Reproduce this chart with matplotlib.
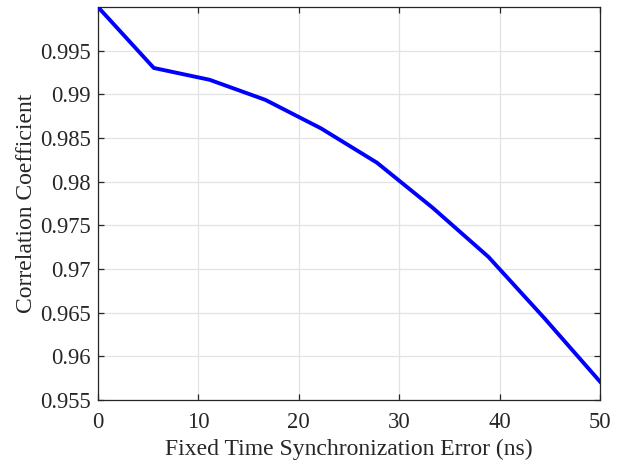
import numpy as np
import matplotlib
matplotlib.use("Agg")
import matplotlib.pyplot as plt

# Synchronization error (ns) and resulting correlation coefficient
sync_error_ns = [0.0, 5.56, 11.11, 16.67, 22.22, 27.78, 33.33, 38.89, 44.44, 50.0]
corr_coef = [1.0000, 0.99302, 0.99167, 0.98937, 0.98610, 0.98218,
             0.97702, 0.97139, 0.96440, 0.95711]

x_ticks = [0, 10, 20, 30, 40, 50]
y_ticks = [0.955, 0.96, 0.965, 0.97, 0.975, 0.98, 0.985, 0.99, 0.995]
y_tick_labels = ["0.955", "0.96", "0.965", "0.97", "0.975", "0.98",
                 "0.985", "0.99", "0.995"]

plt.rcParams["font.family"] = ["Liberation Serif", "DejaVu Serif"]

fig = plt.figure(figsize=(6.23, 4.62), dpi=100)
ax = fig.add_axes([0.1573, 0.1342, 0.8057, 0.8506])

ax.plot(sync_error_ns, corr_coef, color="#0000ff", linewidth=2.8,
        solid_joinstyle="round", zorder=3)

ax.set_xlim(0, 50)
ax.set_ylim(0.955, 1.0)
ax.set_xticks(x_ticks)
ax.set_yticks(y_ticks)
ax.set_yticklabels(y_tick_labels)

ax.grid(True, color="#e3e3e3", linewidth=0.9)
ax.set_axisbelow(True)

for side in ["top", "bottom", "left", "right"]:
    ax.spines[side].set_color("#262626")
    ax.spines[side].set_linewidth(0.9)

ax.tick_params(direction="in", length=4, width=0.9, colors="#262626",
               labelsize=16.3, top=True, right=True)
ax.tick_params(axis="x", pad=9)
ax.tick_params(axis="y", pad=5)
for lbl in ax.get_xticklabels() + ax.get_yticklabels():
    lbl.set_color("#262626")

ax.set_xlabel("Fixed Time Synchronization Error (ns)", fontsize=17,
              color="#262626", labelpad=4)
ax.set_ylabel("Correlation Coefficient", fontsize=17, color="#262626",
              labelpad=2)

fig.savefig("out.png", dpi=100)
